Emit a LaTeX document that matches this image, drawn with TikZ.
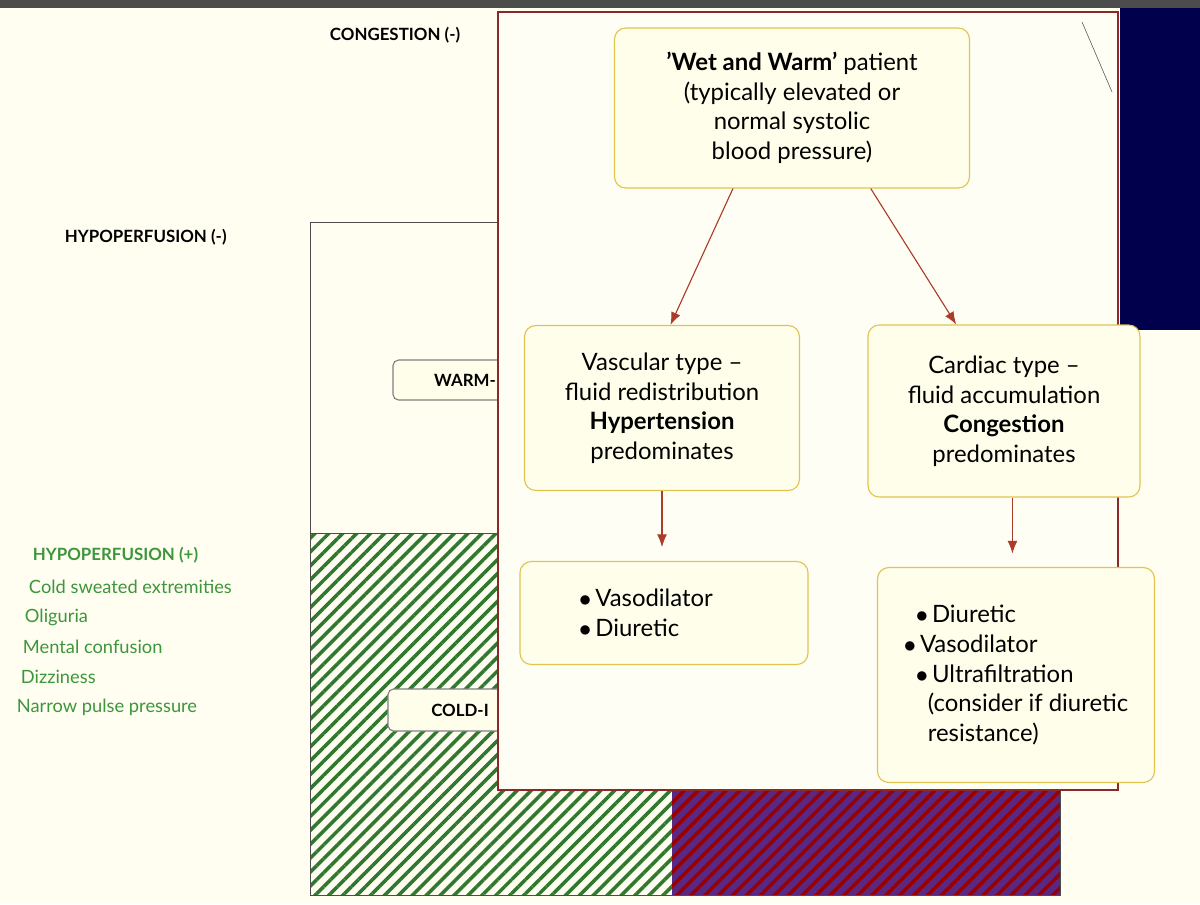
\documentclass[tikz,border=0pt]{standalone}
\usepackage{fontspec}
\setmainfont{Lato}
\usetikzlibrary{patterns.meta,positioning,arrows.meta}
\definecolor{slidegreen}{RGB}{60,150,60}
\definecolor{boxedge}{RGB}{225,195,80}
\definecolor{panelred}{RGB}{140,40,40}
\definecolor{arrowred}{RGB}{170,60,40}
\definecolor{hatchpurple}{RGB}{90,40,130}
\begin{document}
\begin{tikzpicture}[x=0.025cm,y=-0.025cm,
    box/.style={draw=boxedge,thick,rounded corners=8pt,fill=white!92!yellow,
      align=center,font=\fontsize{17}{21}\selectfont,inner sep=0pt},
    tag/.style={box,draw=gray,rounded corners=4pt,minimum height=1cm,
      font=\bfseries\fontsize{12}{14}\selectfont},
    lbl/.style={anchor=west,font=\fontsize{13}{15}\selectfont},
    flow/.style={-{Latex[length=9pt,width=7pt]},arrowred,thick}]
	
	\useasboundingbox (0,0) rectangle (1200,904);
	\fill[white!94!yellow] (0,0) rectangle (1200,904);
	\fill[blue!30!black] (1120,0) rectangle (1200,330);
	\fill[gray!60!black] (0,0) rectangle (1200,8);
	
	% left side of the slide
	\node[lbl,font=\bfseries\fontsize{12}{14}\selectfont] (cong) at (325,35) {CONGESTION (-)};
	\node[lbl,font=\bfseries\fontsize{12}{14}\selectfont] (hypm) at (60,237) {HYPOPERFUSION (-)};
	\node[lbl,slidegreen,font=\bfseries\fontsize{12}{14}\selectfont] (hypp) at (28,555) {HYPOPERFUSION (+)};
	\node[lbl,slidegreen] at (24,587) {Cold sweated extremities};
	\node[lbl,slidegreen] at (20,617) {Oliguria};
	\node[lbl,slidegreen] at (18,647) {Mental confusion};
	\node[lbl,slidegreen] at (16,677) {Dizziness};
	\node[lbl,slidegreen] at (12,707) {Narrow pulse pressure};
	
	\fill[pattern={Lines[angle=45,distance=7pt,line width=2.5pt]},pattern color=slidegreen!80!black] (310,533) rectangle (672,895);
	\fill[hatchpurple] (672,533) rectangle (1060,895);
	\fill[pattern={Lines[angle=45,distance=7pt,line width=2.5pt]},pattern color=red!60!black] (672,533) rectangle (1060,895);
	\draw[gray!60!black] (310,222) rectangle (1060,895);
	\draw[gray!60!black] (310,533) -- (1060,533);
	
	\node[tag,minimum width=3.6cm] (warm) at (465,380) {WARM-};
	\node[tag,minimum width=3.6cm,minimum height=1.05cm] (cold) at (460,710) {COLD-I};
	
	% overlay panel
	\draw[panelred,very thick,fill=white!96!yellow] (498,12) rectangle (1118,790);
	\draw[gray!70!black] (1082,22) -- (1112,92);
	
	\node[box,minimum width=355*0.025cm,minimum height=160*0.025cm] (ww) at (792,108)
	  {\textbf{'Wet and Warm'} patient\\(typically elevated or\\normal systolic\\blood pressure)};
	\node[box,minimum width=275*0.025cm,minimum height=165*0.025cm] (vasc) at (662,408)
	  {Vascular type --\\fluid redistribution\\\textbf{Hypertension}\\predominates};
	\node[box,minimum width=272*0.025cm,minimum height=172*0.025cm] (card) at (1004,411)
	  {Cardiac type --\\fluid accumulation\\\textbf{Congestion}\\predominates};
	\node[box,align=left,minimum width=288*0.025cm,minimum height=103*0.025cm] (vtx) at (664,613)
	  {\hspace*{-0.9cm}$\bullet$\,Vasodilator\\\hspace*{-0.9cm}$\bullet$\,Diuretic};
	\node[box,align=left,minimum width=277*0.025cm,minimum height=215*0.025cm] (ctx) at (1016,675)
	  {\hspace*{0.3cm}$\bullet$\,Diuretic\\$\bullet$\,Vasodilator\\\hspace*{0.3cm}$\bullet$\,Ultrafiltration\\\hspace*{0.6cm}(consider if diuretic\\\hspace*{0.6cm}resistance)};
	
	\draw[flow] ([xshift=-42]ww.south) -- ([xshift=6]vasc.north);
	\draw[flow] ([xshift=56]ww.south) -- ([xshift=-34]card.north);
	\draw[flow] (vasc.south) -- ++(0,56) coordinate (v1);
	\draw[flow] ([xshift=6]card.south) -- ++(0,56) coordinate (c1);
	
\end{tikzpicture}
\end{document}
